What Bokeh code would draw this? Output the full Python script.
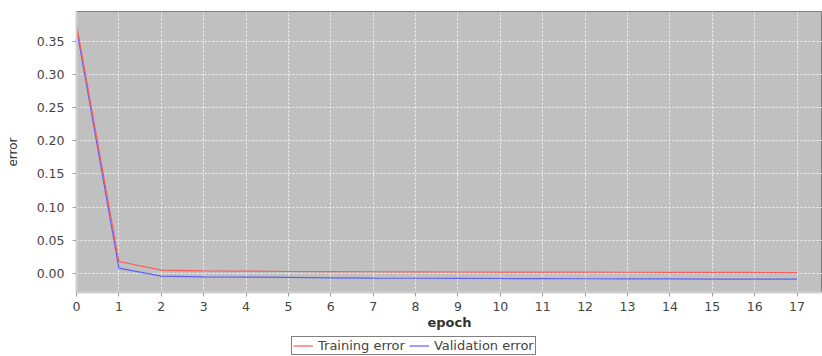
from bokeh.plotting import figure
from bokeh.layouts import column
from bokeh.models import Legend, LegendItem, FixedTicker, NumeralTickFormatter, Range1d
from bokeh.embed import file_html
from bokeh.resources import INLINE

epochs = list(range(18))
training_error = [0.376, 0.018, 0.005, 0.004, 0.0035, 0.003, 0.0028, 0.0026, 0.0024,
                  0.0022, 0.0021, 0.002, 0.0019, 0.0018, 0.0017, 0.0016, 0.0015, 0.0014]
validation_error = [0.370, 0.008, -0.004, -0.005, -0.0055, -0.006, -0.0065, -0.007, -0.0072,
                    -0.0074, -0.0076, -0.0078, -0.008, -0.0082, -0.0083, -0.0084, -0.0085, -0.0086]
x_ticks = list(range(18))
y_ticks = [0.0, 0.05, 0.10, 0.15, 0.20, 0.25, 0.30, 0.35]
series_names = ["Training error", "Validation error"]
series_colors = ["#FF5A5A", "#5F5FFF"]

FONT = "DejaVu Sans"

p = figure(width=822, height=334, x_range=(0, 17.6), y_range=(-0.0287, 0.395),
           output_backend="svg", toolbar_location=None,
           min_border_left=76, min_border_right=0, min_border_top=11, min_border_bottom=42)
p.background_fill_color = "#C0C0C0"
p.border_fill_color = "white"
p.outline_line_color = "#808080"
p.outline_line_width = 1

p.line(epochs, validation_error, line_color=series_colors[1], line_width=1.2)
p.line(epochs, training_error, line_color=series_colors[0], line_width=1.2)

p.xaxis.ticker = FixedTicker(ticks=x_ticks)
p.yaxis.ticker = FixedTicker(ticks=y_ticks)
p.yaxis.formatter = NumeralTickFormatter(format="0.00")
p.xaxis.axis_label = "epoch"
p.yaxis.axis_label = "error"
for ax in (p.xaxis, p.yaxis):
    ax.axis_line_color = "#D0D0D0"
    ax.axis_line_width = 2
    ax.major_tick_line_color = "#A0A0A0"
    ax.major_tick_in = 0
    ax.major_tick_out = 4
    ax.minor_tick_line_color = None
    ax.major_label_text_font = FONT
    ax.major_label_text_font_size = "12.5px"
    ax.major_label_text_color = "#444444"
    ax.axis_label_text_font = FONT
    ax.axis_label_text_color = "#333333"
p.yaxis.major_label_standoff = 8
p.xaxis.axis_label_text_font_style = "bold"
p.xaxis.axis_label_text_font_size = "13px"
p.xaxis.axis_label_standoff = 1
p.yaxis.axis_label_text_font_style = "normal"
p.yaxis.axis_label_text_font_size = "12px"
p.yaxis.axis_label_standoff = 14

p.xgrid.grid_line_color = "white"
p.ygrid.grid_line_color = "white"
p.xgrid.grid_line_dash = "2 2"
p.ygrid.grid_line_dash = "2 2"
p.xgrid.grid_line_alpha = 0.8
p.ygrid.grid_line_alpha = 0.8

# legend strip below the chart
lg = figure(width=822, height=22, x_range=Range1d(0, 1), y_range=Range1d(0, 1),
            output_backend="svg", toolbar_location=None,
            min_border=0, outline_line_color=None)
lg.axis.visible = False
lg.grid.visible = False
items = []
for name, col in zip(series_names, series_colors):
    r = lg.line([-5, -4], [-5, -5], line_color=col, line_width=1.2)
    items.append(LegendItem(label=name, renderers=[r]))
legend = Legend(items=items, orientation="horizontal", location=(215, 1))
legend.label_text_font = FONT
legend.label_text_font_size = "13px"
legend.label_text_color = "#444444"
legend.border_line_color = "black"
legend.border_line_width = 1
legend.background_fill_alpha = 0
legend.padding = 1
legend.margin = 0
legend.spacing = 4
legend.glyph_width = 20
legend.glyph_height = 15
legend.label_height = 15
legend.label_standoff = 5
lg.add_layout(legend, "center")

layout = column(p, lg, spacing=0)
open("out.html", "w").write(file_html(layout, INLINE))
